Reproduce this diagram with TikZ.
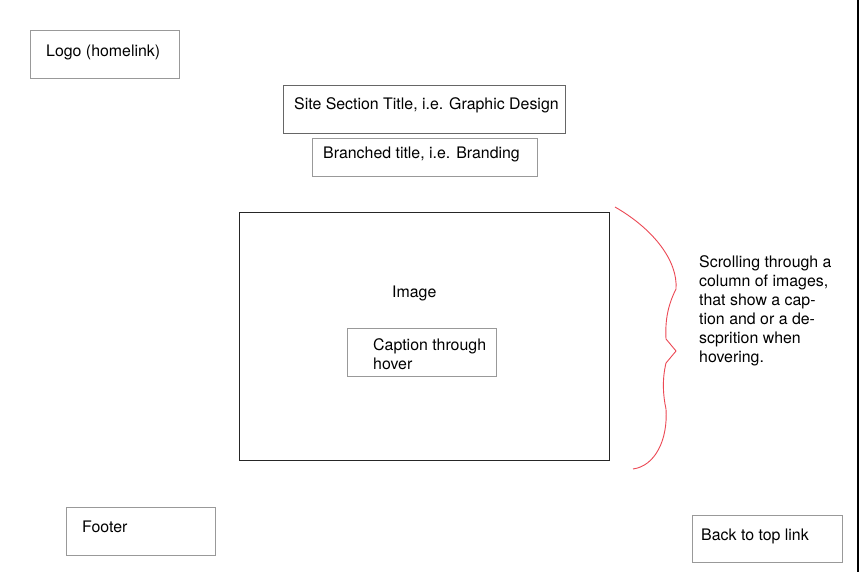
\documentclass[tikz,border=0pt]{standalone}
\usepackage{fontspec}
\setmainfont{TeX Gyre Heros}
\definecolor{bracered}{RGB}{236,72,84}
\begin{document}
\begin{tikzpicture}[x=1pt,y=-1pt,
  box/.style={draw=black!40, line width=0.9pt, rectangle, inner sep=0pt, anchor=north west},
  darkbox/.style={draw=black!60, line width=1pt, rectangle, inner sep=0pt, anchor=north west},
  imgbox/.style={draw=black!85, line width=1.4pt, rectangle, inner sep=0pt, anchor=north west},
  txt/.style={anchor=base west, inner sep=0pt, font=\fontsize{15.9}{19}\selectfont},
  brace/.style={draw=bracered, line width=0.9pt}]
\useasboundingbox (0,0) rectangle (860,572);
\fill[white] (0,0) rectangle (860,572);
% boxes
\node[box, minimum width=149pt, minimum height=48pt] (logo) at (30,30) {};
\node[darkbox, minimum width=282pt, minimum height=48pt] (site) at (283,85) {};
\node[box, minimum width=225pt, minimum height=38pt] (branch) at (312,138) {};
\node[imgbox, minimum width=370pt, minimum height=248pt] (img) at (239,212) {};
\node[box, minimum width=149pt, minimum height=48pt] (cap) at (347,328) {};
\node[box, minimum width=149pt, minimum height=48pt] (footer) at (66,507) {};
\node[box, minimum width=150pt, minimum height=47pt] (back) at (692,515) {};
% texts
\node[txt] (logot) at (46,57) {Logo (homelink)};
\node[txt] (sitet) at (294,110) {Site Section Title, i.e. Graphic Design};
\node[txt] (brancht) at (323,159) {Branched title, i.e. Branding};
\node[txt] (imgt) at (392,298) {Image};
\node[txt, align=left, anchor=north west] (capt) at (373,338) {Caption through\\hover};
\node[txt] (footert) at (82,532) {Footer};
\node[txt] (backt) at (701,540) {Back to top link};
\node[txt, align=left, anchor=north west] (note) at (699,255) {Scrolling through a\\column of images,\\that show a cap-\\tion and or a de-\\scprition when\\hovering.};
% brace
\coordinate (b0) at (615,207);
\coordinate (b1) at (676,289);
\coordinate (b2) at (666,339);
\coordinate (b3) at (676,351);
\coordinate (b4) at (666,363);
\coordinate (b5) at (666,409);
\coordinate (b6) at (633,469);
\draw[brace] (b0) .. controls (655,230) and (678,262) .. (b1)
  .. controls (668,305) and (665,320) .. (b2) -- (b3) -- (b4)
  .. controls (662,380) and (663,395) .. (b5)
  .. controls (668,440) and (655,466) .. (b6);
% right edge line
\coordinate (e0) at (858,0);
\coordinate (e1) at (858,572);
\draw[black, line width=1.5pt] (e0) -- (e1);
\end{tikzpicture}
\end{document}
